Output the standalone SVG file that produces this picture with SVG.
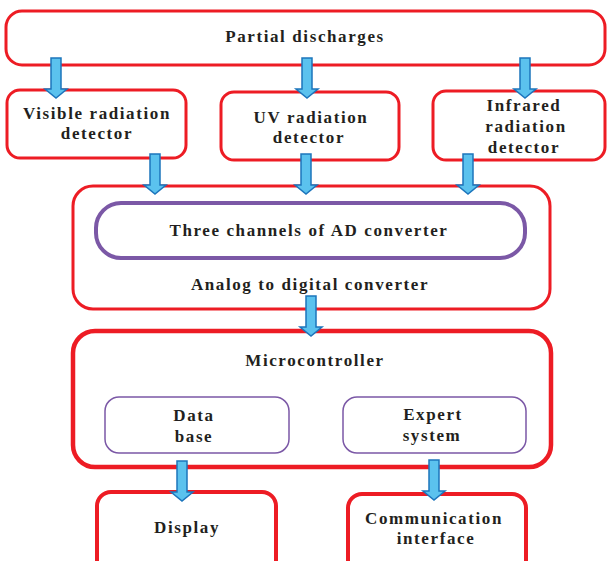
<svg xmlns="http://www.w3.org/2000/svg" xmlns:xlink="http://www.w3.org/1999/xlink" width="607" height="561" viewBox="0 0 607 561">
<style>
.box{fill:#fff;stroke:#ED1C24;stroke-width:3}
.thick{stroke-width:4.5}
.inner{fill:#fff;stroke:#7B58A6;stroke-width:4}
.thin{fill:#fff;stroke:#7B58A6;stroke-width:1.5}
text{font-family:"Liberation Serif","Times New Roman",serif;font-weight:bold;font-size:17px;letter-spacing:1.6px;fill:#231F20;text-anchor:middle}
.arr{fill:#5BC2EE;stroke:#1C75BC;stroke-width:1.5;stroke-linejoin:miter}
</style>
<defs>
<path id="arrow" class="arr" d="M-5,0 h10 v31 h6 l-11,9 l-11,-9 h6 z"/>
</defs>
<g id="partial-discharges">
<rect class="box" x="6" y="11" width="599" height="54" rx="16"/>
<text x="305" y="42">Partial discharges</text>
</g>
<g id="visible-detector">
<rect class="box" x="7" y="90" width="179" height="68" rx="13"/>
<text x="97" y="119">Visible radiation</text>
<text x="97" y="139">detector</text>
</g>
<g id="uv-detector">
<rect class="box" x="221" y="92" width="178" height="68" rx="13"/>
<text x="311" y="123">UV radiation</text>
<text x="309" y="143">detector</text>
</g>
<g id="infrared-detector">
<rect class="box" x="433" y="91" width="172" height="69" rx="13"/>
<text x="524" y="111">Infrared</text>
<text x="526" y="132">radiation</text>
<text x="524" y="153">detector</text>
</g>
<g id="adc">
<rect class="box" x="73" y="186" width="477" height="123" rx="20"/>
<g id="three-channels">
<rect class="inner" x="96" y="203" width="429" height="55" rx="25"/>
<text x="309" y="236">Three channels of AD converter</text>
</g>
<text x="310" y="290">Analog to digital converter</text>
</g>
<g id="microcontroller">
<rect class="box thick" x="73" y="331" width="478" height="136" rx="22"/>
<text x="315" y="366">Microcontroller</text>
<g id="database">
<rect class="thin" x="105" y="397" width="184" height="56" rx="14"/>
<text x="194" y="421">Data</text>
<text x="194" y="442">base</text>
</g>
<g id="expert-system">
<rect class="thin" x="343" y="397" width="183" height="56" rx="14"/>
<text x="433" y="420">Expert</text>
<text x="432" y="441">system</text>
</g>
</g>
<g id="display">
<rect class="box" x="97" y="492" width="179" height="85" rx="14" style="stroke-width:4"/>
<text x="187" y="533">Display</text>
</g>
<g id="communication">
<rect class="box" x="348" y="494" width="178" height="85" rx="14" style="stroke-width:4"/>
<text x="434" y="524">Communication</text>
<text x="436" y="544">interface</text>
</g>
<g id="connectors">
<use xlink:href="#arrow" x="56" y="58"/>
<use xlink:href="#arrow" x="307" y="58"/>
<use xlink:href="#arrow" x="525" y="58"/>
<use xlink:href="#arrow" x="155" y="154"/>
<use xlink:href="#arrow" x="306" y="154"/>
<use xlink:href="#arrow" x="468" y="154"/>
<use xlink:href="#arrow" x="311" y="296"/>
<use xlink:href="#arrow" x="182" y="461"/>
<use xlink:href="#arrow" x="434" y="460"/>
</g>
</svg>
